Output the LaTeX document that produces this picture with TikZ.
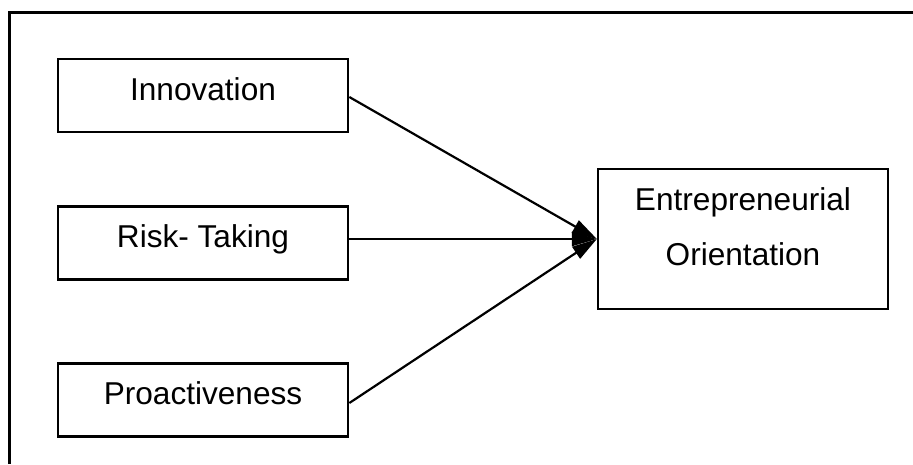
\documentclass[tikz,border=0pt]{standalone}
\usepackage{fontspec}
\setmainfont{Liberation Sans}
\usetikzlibrary{arrows.meta}
\begin{document}
\begin{tikzpicture}[x=1pt,y=-1pt,
  line width=2.2pt,
  lbl/.style={font=\fontsize{31.6}{38}\selectfont},
  factor/.style={draw, lbl, inner sep=0pt, minimum width=290.5pt,
    minimum height=73pt, text height=23pt, text depth=14pt},
  outcome/.style={draw, inner sep=0pt, minimum width=290pt, minimum height=140pt},
  link/.style={-{Triangle[length=25pt,width=14pt]}}]
  \useasboundingbox (0,0) rectangle (913,464);
  % open frame: only the top and left edges fall inside the page
  \draw (9.5,464) -- (9.5,12.5) -- (913,12.5);
  % the three dimensions
  \node[factor] (inn)  at (203,95.5) {Innovation};
  \node[factor] (risk) at (203,243)  {Risk- Taking};
  \node[factor] (pro)  at (203,400)  {Proactiveness};
  % the construct they form
  \node[outcome] (eo) at (743,239) {};
  \node[lbl, anchor=base] (eoa) at (743,210) {Entrepreneurial};
  \node[lbl, anchor=base] (eob) at (743,265) {Orientation};
  % links
  \draw[link] ([yshift=-1.5pt]inn.east) -- (eo.west);
  \draw[link] ([yshift=4pt]risk.east)   -- (eo.west);
  \draw[link] ([yshift=-3pt]pro.east)   -- (eo.west);
\end{tikzpicture}
\end{document}
